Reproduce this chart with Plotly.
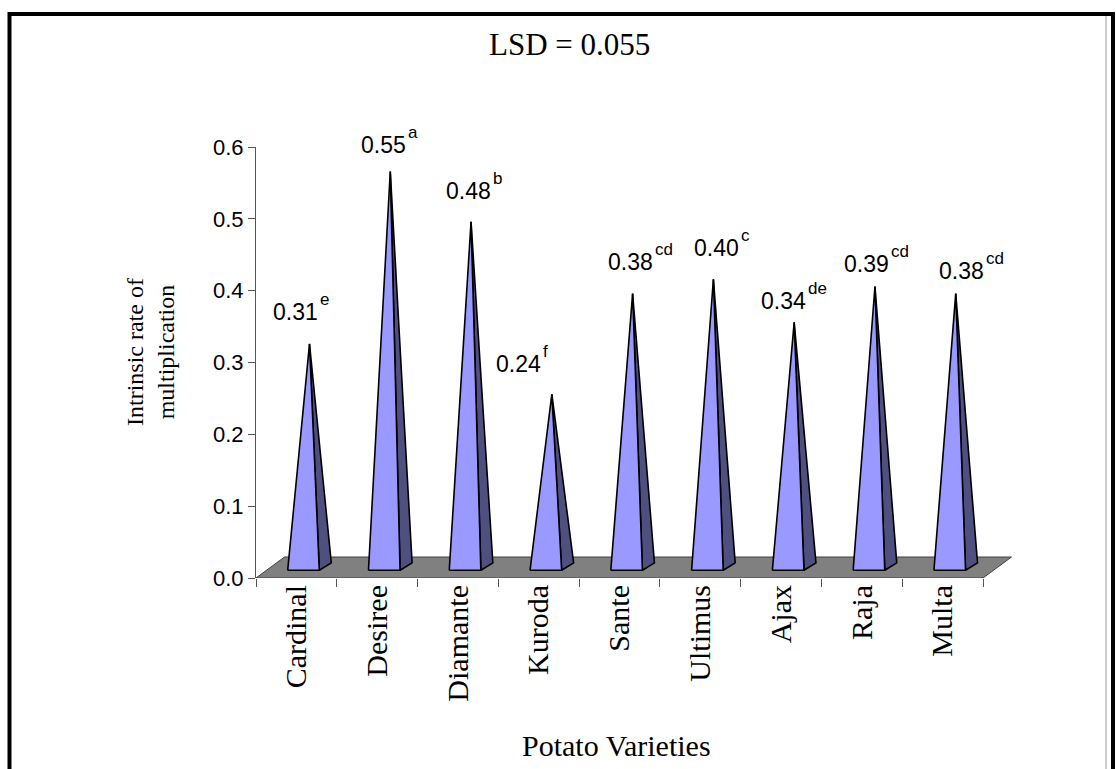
import plotly.graph_objects as go

# ---- data -------------------------------------------------------------
varieties = ["Cardinal", "Desiree", "Diamante", "Kuroda", "Sante",
             "Ultimus", "Ajax", "Raja", "Multa"]
rates = [0.31, 0.55, 0.48, 0.24, 0.38, 0.40, 0.34, 0.39, 0.38]
groups = ["e", "a", "b", "f", "cd", "c", "de", "cd", "cd"]
y_ticks = [0.0, 0.1, 0.2, 0.3, 0.4, 0.5, 0.6]

# ---- page geometry ----------------------------------------------------
FIG_W, FIG_H = 1116, 769
M_L, M_R, M_T, M_B = 256, 96, 147, 191
PLOT_W = FIG_W - M_L - M_R
PLOT_H = FIG_H - M_T - M_B
CAT_PX = 80.78                      # width of one category slot
X_MIN = -0.5
X_MAX = X_MIN + PLOT_W / CAT_PX
Y_MAX = 0.6
PX_PER_Y = PLOT_H / Y_MAX

SERIF = "Times New Roman, Liberation Serif, serif"
SANS = "Arial, Liberation Sans, sans-serif"
LIGHT = "#9999FF"
DARK = "#505080"
FLOOR = "#808080"


def ux(px):
    """pixels -> x data units"""
    return px / CAT_PX


def uy(px):
    """pixels -> y data units"""
    return px / PX_PER_Y


def paper_x(px):
    return (px - M_L) / PLOT_W


def paper_y(py):
    return (FIG_H - M_B - py) / PLOT_H


# pyramid shape (oblique projection)
HALF = ux(15.8)
FRONT_DX, FRONT_DY = ux(7.1), uy(7.7)
DEPTH_DX, DEPTH_DY = ux(12.0), uy(7.4)
FLOOR_DX, FLOOR_DY = ux(28.5), uy(21.0)

# label placement relative to each apex, in pixels
label_dx = [-35.5, -28.3, -24.1, -54.9, -23.6, -18.4, -32.2, -30.0, -15.8]
label_gap = [23.6, 19.0, 23.2, 22.0, 24.0, 23.0, 13.0, 14.0, 15.0]
NUM_W = 45.0
NUM_SIZE, SUP_SIZE = 23, 17

fig = go.Figure()

# floor
n = len(varieties)
fx = [X_MIN, n - 0.5, n - 0.5 + FLOOR_DX, X_MIN + FLOOR_DX, X_MIN]
fy = [0, 0, FLOOR_DY, FLOOR_DY, 0]
fig.add_trace(go.Scatter(x=fx, y=fy, mode="lines", fill="toself",
                         fillcolor=FLOOR, line=dict(color="#404040", width=1),
                         hoverinfo="skip", showlegend=False))

annotations = []
for i, (v, g) in enumerate(zip(rates, groups)):
    cx = i + FRONT_DX
    fl = (cx - HALF, FRONT_DY)
    fr = (cx + HALF, FRONT_DY)
    br = (fr[0] + DEPTH_DX, FRONT_DY + DEPTH_DY)
    apex = (cx + DEPTH_DX / 2, FRONT_DY + DEPTH_DY / 2 + v)

    # right (shaded) face
    fig.add_trace(go.Scatter(
        x=[fr[0], br[0], apex[0], fr[0]], y=[fr[1], br[1], apex[1], fr[1]],
        mode="lines", fill="toself", fillcolor=DARK,
        line=dict(color="black", width=1.6), hoverinfo="skip", showlegend=False))
    # front face
    fig.add_trace(go.Scatter(
        x=[fl[0], fr[0], apex[0], fl[0]], y=[fl[1], fr[1], apex[1], fl[1]],
        mode="lines", fill="toself", fillcolor=LIGHT,
        line=dict(color="black", width=1.6), hoverinfo="skip", showlegend=False))

    right_edge = label_dx[i] + NUM_W
    annotations.append(dict(
        x=apex[0], y=apex[1], xref="x", yref="y", text=f"{v:.2f}",
        showarrow=False, xanchor="right", yanchor="bottom",
        xshift=right_edge + 1, yshift=label_gap[i] - 7,
        font=dict(family=SANS, size=NUM_SIZE, color="black")))
    annotations.append(dict(
        x=apex[0], y=apex[1], xref="x", yref="y", text=g,
        showarrow=False, xanchor="left", yanchor="bottom",
        xshift=right_edge - 1, yshift=label_gap[i] + 16 - 7,
        font=dict(family=SANS, size=SUP_SIZE, color="black")))

# titles
annotations.append(dict(
    x=paper_x(569), y=paper_y(44.5), xref="paper", yref="paper",
    text="LSD = 0.055", showarrow=False, xanchor="center", yanchor="middle",
    font=dict(family=SERIF, size=31, color="black")))
annotations.append(dict(
    x=(n - 1) / 2, y=paper_y(745), xref="x", yref="paper", xshift=-3,
    text="Potato Varieties", showarrow=False, xanchor="center", yanchor="middle",
    font=dict(family=SERIF, size=30, color="black")))
annotations.append(dict(
    x=paper_x(150), y=paper_y(352), xref="paper", yref="paper",
    text="Intrinsic rate of<br>multiplication", textangle=-90,
    showarrow=False, xanchor="center", yanchor="middle",
    font=dict(family=SERIF, size=24, color="black")))

# outer frame
shapes = [
    dict(type="rect", xref="paper", yref="paper",
         x0=paper_x(9.5), x1=paper_x(1113), y0=paper_y(14), y1=paper_y(800),
         line=dict(color="black", width=4), fillcolor="rgba(0,0,0,0)"),
    dict(type="line", xref="paper", yref="paper",
         x0=paper_x(1106), x1=paper_x(1106), y0=paper_y(16), y1=paper_y(800),
         line=dict(color="#999999", width=1)),
]

fig.update_layout(
    width=FIG_W, height=FIG_H,
    margin=dict(l=M_L, r=M_R, t=M_T, b=M_B, pad=0),
    paper_bgcolor="white", plot_bgcolor="white",
    showlegend=False,
    annotations=annotations, shapes=shapes,
    xaxis=dict(
        range=[X_MIN, X_MAX], showgrid=False, zeroline=False, showline=False,
        tickmode="array", tickvals=list(range(n)), ticktext=varieties,
        tickangle=-90, ticks="", ticklabelstandoff=0,
        tickfont=dict(family=SERIF, size=30, color="black"),
        minor=dict(ticks="outside", tickmode="array",
                   tickvals=[k - 0.5 for k in range(n + 1)],
                   ticklen=8, tickcolor="#555555", tickwidth=1),
    ),
    yaxis=dict(
        range=[0, Y_MAX], showgrid=False, zeroline=False,
        showline=True, linecolor="#555555", linewidth=1,
        tickmode="array", tickvals=y_ticks,
        ticktext=[f"{t:.1f}" for t in y_ticks],
        ticks="outside", ticklen=7, tickcolor="#555555",
        tickfont=dict(family=SANS, size=22, color="black"),
    ),
)

fig.write_html("out.html")
